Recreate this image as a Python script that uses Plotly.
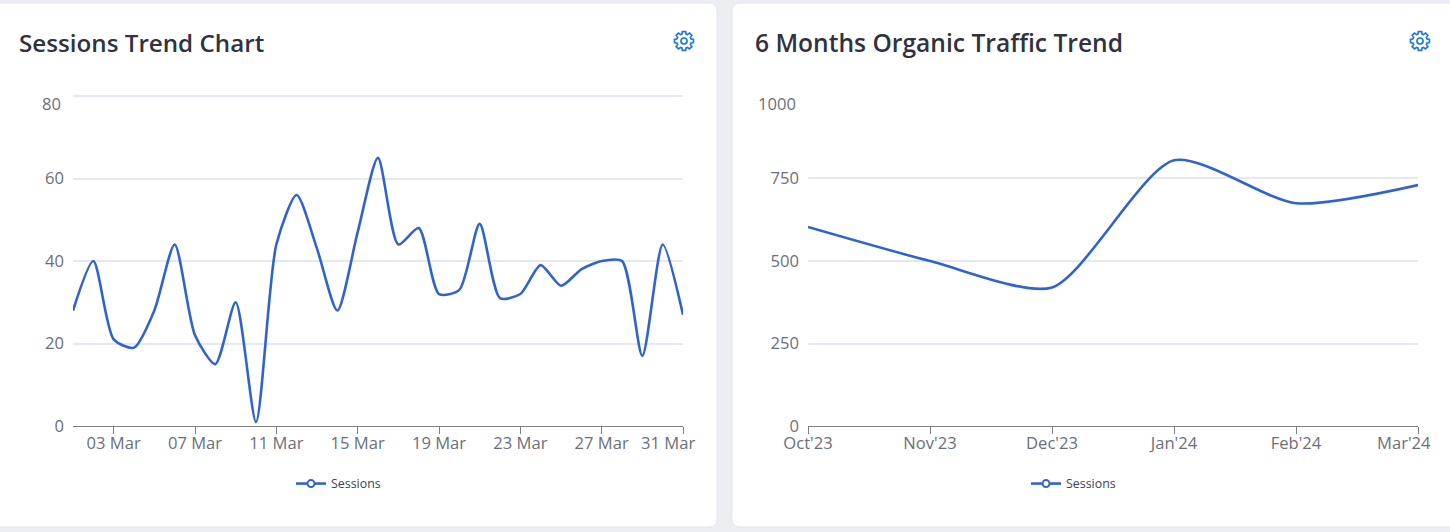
import math
import plotly.graph_objects as go

W, H = 1450, 532

days = [f"{d:02d} Mar" for d in range(1, 32)]
sessions_daily = [28, 40, 21, 19, 28, 44, 22, 15, 30, 1, 44, 56, 43, 28, 47, 65,
                  44, 48, 32, 33, 49, 31, 32, 39, 34, 38, 40, 40, 17, 44, 27]
day_ticks = ["03 Mar", "07 Mar", "11 Mar", "15 Mar", "19 Mar", "23 Mar", "27 Mar", "31 Mar"]

months = ["Oct'23", "Nov'23", "Dec'23", "Jan'24", "Feb'24", "Mar'24"]
sessions_monthly = [603, 500, 420, 805, 675, 730]

left_y_ticks = [0, 20, 40, 60, 80]
right_y_ticks = [0, 250, 500, 750, 1000]

BLUE = "#3163cf"
GRID = "#e6e8f0"
AXIS = "#7d7f85"
TICK = "#6b7078"
TITLE = "#2f3340"
BG = "#eceef4"
GEAR = "#1f78d8"
FONT = "Open Sans"
TICK_SIZE = 16.6


def fx(px):
    return px / W


def fy(py):
    return 1 - py / H


def card(x0, y0, x1, y1, r=8):
    p = (f"M{fx(x0+r)},{fy(y0)} L{fx(x1-r)},{fy(y0)} Q{fx(x1)},{fy(y0)} {fx(x1)},{fy(y0+r)} "
         f"L{fx(x1)},{fy(y1-r)} Q{fx(x1)},{fy(y1)} {fx(x1-r)},{fy(y1)} "
         f"L{fx(x0+r)},{fy(y1)} Q{fx(x0)},{fy(y1)} {fx(x0)},{fy(y1-r)} "
         f"L{fx(x0)},{fy(y0+r)} Q{fx(x0)},{fy(y0)} {fx(x0+r)},{fy(y0)} Z")
    return dict(type="path", xref="paper", yref="paper", path=p, fillcolor="white",
                line=dict(color="#e4e6ee", width=1), layer="below")


def gear(cx, cy, outer=9.6, inner=7.2, teeth=8):
    pts = []
    step = 2 * math.pi / teeth
    for i in range(teeth):
        a = i * step
        for da, r in ((-0.30, inner), (-0.17, outer), (0.17, outer), (0.30, inner)):
            pts.append((cx + r * math.cos(a + da), cy + r * math.sin(a + da)))
    d = "M" + " L".join(f"{fx(x)},{fy(y)}" for x, y in pts) + " Z"
    return [
        dict(type="path", xref="paper", yref="paper", path=d, line=dict(color=GEAR, width=1.7)),
        dict(type="circle", xref="paper", yref="paper", x0=fx(cx - 3), x1=fx(cx + 3),
             y0=fy(cy + 3), y1=fy(cy - 3), line=dict(color=GEAR, width=1.7)),
    ]


fig = go.Figure()

for name_x, name_y, xs, ys, leg in (("x", "y", days, sessions_daily, "legend"),
                                    ("x2", "y2", months, sessions_monthly, "legend2")):
    fig.add_trace(go.Scatter(x=xs, y=ys, xaxis=name_x, yaxis=name_y, mode="lines",
                             line=dict(color=BLUE, width=2.6, shape="spline", smoothing=0.7),
                             showlegend=False, hoverinfo="x+y", name="Sessions"))
    fig.add_trace(go.Scatter(x=[None], y=[None], xaxis=name_x, yaxis=name_y, mode="lines+markers",
                             name="Sessions", legend=leg,
                             line=dict(color=BLUE, width=2.6),
                             marker=dict(size=7, color="white", line=dict(color=BLUE, width=2))))

xcommon = dict(type="category", showgrid=False, showline=True, linecolor=AXIS, linewidth=1.3,
               ticks="outside", ticklen=7, tickcolor=AXIS, tickwidth=1.2, zeroline=False,
               ticklabelstandoff=-5, tickangle=0,
               tickfont=dict(family=FONT, size=TICK_SIZE, color=TICK), automargin=False)
ycommon = dict(showgrid=True, gridcolor=GRID, gridwidth=1.7, showline=False, zeroline=False,
               ticks="", ticklabelstandoff=8,
               tickfont=dict(family=FONT, size=TICK_SIZE, color=TICK), automargin=False)

plot_y = [fy(426), fy(95)]


def blank_last(values):
    return [str(v) for v in values[:-1]] + [""]


annotations = []
for text, x, size in (("Sessions Trend Chart", 16.5, 24.2), ("6 Months Organic Traffic Trend", 753, 24.6)):
    annotations.append(dict(text=text, xref="paper", yref="paper", x=fx(x), y=fy(42), xanchor="left",
                            yanchor="middle", showarrow=False,
                            font=dict(family=FONT, size=size, color=TITLE, weight=600)))
for text, x, y, anchor in (("80", 63, 103, "right"), ("1000", 798, 103, "right"),
                           ("31 Mar", 697, 442, "right"), ("Mar'24", 1433, 442, "right")):
    annotations.append(dict(text=text, xref="paper", yref="paper", x=fx(x), y=fy(y), xanchor=anchor,
                            yanchor="middle", showarrow=False,
                            font=dict(family=FONT, size=TICK_SIZE, color=TICK)))

legend_common = dict(orientation="h", xanchor="left", yanchor="middle", bgcolor="rgba(0,0,0,0)",
                     font=dict(family=FONT, size=12.4, color="#3c4150"))

fig.update_layout(
    width=W, height=H, margin=dict(l=0, r=0, t=0, b=0, pad=0),
    paper_bgcolor=BG, plot_bgcolor="rgba(0,0,0,0)",
    xaxis=dict(domain=[fx(73), fx(683)], range=[0, 30], tickmode="array", tickvals=day_ticks,
               ticktext=day_ticks[:-1] + [""], **xcommon),
    yaxis=dict(domain=plot_y, range=[0, 80.25], tickmode="array", tickvals=left_y_ticks,
               ticktext=blank_last(left_y_ticks), **ycommon),
    xaxis2=dict(domain=[fx(808), fx(1418)], range=[0, 5], tickmode="array", tickvals=months,
                ticktext=months[:-1] + [""], anchor="y2", **xcommon),
    yaxis2=dict(domain=plot_y, range=[0, 1003], tickmode="array", tickvals=right_y_ticks,
                ticktext=blank_last(right_y_ticks), anchor="x2", **ycommon),
    legend=dict(x=fx(291), y=fy(484), **legend_common),
    legend2=dict(x=fx(1026), y=fy(484), **legend_common),
    shapes=[card(-12, 3, 717, 527), card(732, 3, 1470, 527)] + gear(684, 41) + gear(1420, 41),
    annotations=annotations,
)

fig.write_html("out.html", config=dict(displayModeBar=False),
               post_script="document.body.style.margin='0';document.body.style.overflow='hidden';")
